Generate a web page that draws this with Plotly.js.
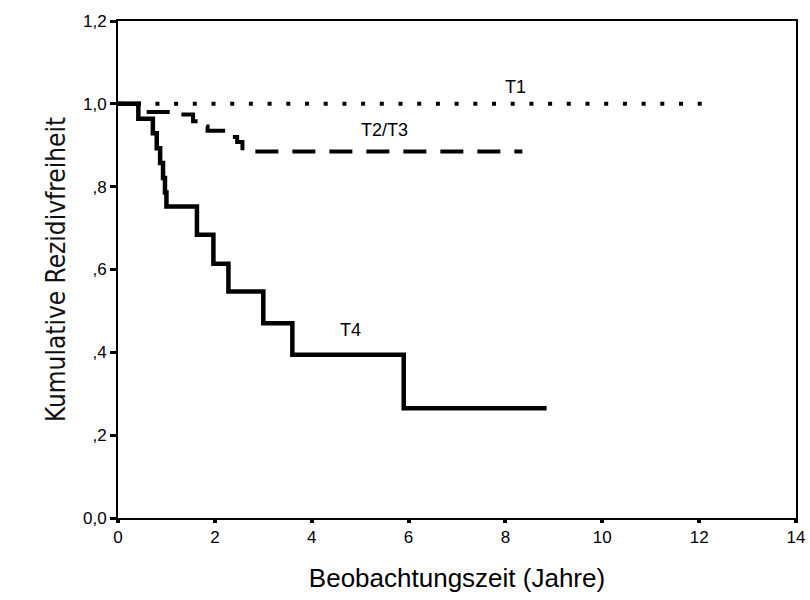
<!DOCTYPE html>
<html>
<head>
<meta charset="utf-8">
<script src="https://cdn.plot.ly/plotly-3.0.1.min.js"></script>
<style>html,body{margin:0;padding:0;background:#fff}#chart{width:810px;height:600px}</style>
</head>
<body>
<div id="chart"></div>
<script>
// Kaplan-Meier step curves (time in years, cumulative recurrence-free proportion)
var t1X = [0, 12.12];
var t1Y = [1.0, 1.0];

var t23X = [0, 0.5, 1.35, 1.55, 1.68, 1.85, 2.28, 2.46, 2.57, 8.35];
var t23Y = [1.0, 0.98, 0.974, 0.958, 0.945, 0.935, 0.92, 0.908, 0.885, 0.885];

var t4X = [0, 0.42, 0.72, 0.8, 0.87, 0.93, 0.97, 1.0, 1.63, 1.97, 2.28, 3.0, 3.6, 5.9, 8.85];
var t4Y = [1.0, 0.964, 0.929, 0.893, 0.857, 0.821, 0.786, 0.752, 0.684, 0.614, 0.547, 0.47, 0.394, 0.265, 0.265];

var xTicks = [0, 2, 4, 6, 8, 10, 12, 14];
var xTickText = ['0', '2', '4', '6', '8', '10', '12', '14'];
var yTicks = [0, 0.2, 0.4, 0.6, 0.8, 1.0, 1.2];
var yTickText = ['0,0', ',2', ',4', ',6', ',8', '1,0', '1,2'];

var labels = [
  {text: 'T1', x: 8.2, y: 1.04},
  {text: 'T2/T3', x: 5.5, y: 0.937},
  {text: 'T4', x: 4.8, y: 0.455}
];

var traces = [
  {x: t1X, y: t1Y, mode: 'lines', line: {shape: 'hv', color: '#000', width: 4, dash: '4px,14.7px'}, name: 'T1'},
  {x: t23X, y: t23Y, mode: 'lines', line: {shape: 'hv', color: '#000', width: 4, dash: '23px,14px'}, name: 'T2/T3'},
  {x: t4X, y: t4Y, mode: 'lines', line: {shape: 'hv', color: '#000', width: 4.5}, name: 'T4'}
];

var fam = 'Liberation Sans, Arial, sans-serif';
var narrow = 'Liberation Sans Narrow, DejaVu Sans Condensed, Liberation Sans, sans-serif';

var layout = {
  width: 810, height: 600,
  margin: {l: 118, r: 14, t: 21, b: 82},
  paper_bgcolor: '#fff', plot_bgcolor: '#fff',
  showlegend: false,
  font: {family: fam, color: '#000', size: 16},
  xaxis: {
    range: [0, 14], tickvals: xTicks, ticktext: xTickText,
    showgrid: false, zeroline: false, showline: true, mirror: true,
    linecolor: '#000', linewidth: 2, ticks: 'outside', ticklen: 3, tickwidth: 4, tickcolor: '#000',
    tickfont: {family: fam, size: 17, color: '#000'},
    title: {text: 'Beobachtungszeit (Jahre)', font: {family: fam, size: 26, color: '#000'}, standoff: 22}
  },
  yaxis: {
    range: [0, 1.2], tickvals: yTicks, ticktext: yTickText,
    showgrid: false, zeroline: false, showline: true, mirror: true,
    linecolor: '#000', linewidth: 2, ticks: 'outside', ticklen: 6, tickwidth: 3, tickcolor: '#000',
    tickfont: {family: fam, size: 17, color: '#000'},
    title: {text: 'Kumulative Rezidivfreiheit', font: {family: narrow, size: 26, color: '#111'}, standoff: 10}
  },
  annotations: labels.map(function (l) {
    return {x: l.x, y: l.y, xref: 'x', yref: 'y', text: l.text, showarrow: false,
      font: {family: fam, size: 18, color: '#000'}};
  })
};

Plotly.newPlot('chart', traces, layout, {displayModeBar: false, staticPlot: true});
</script>
</body>
</html>
